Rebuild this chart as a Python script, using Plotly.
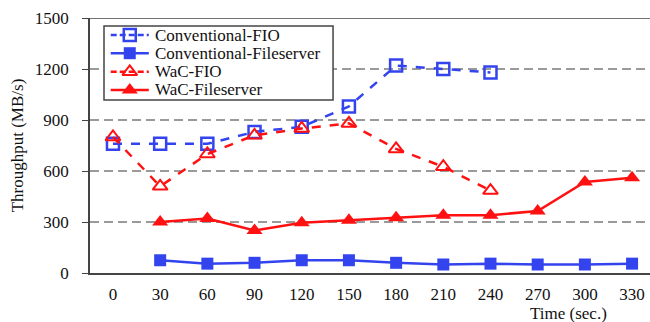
import plotly.graph_objects as go

time_labels = ["0", "30", "60", "90", "120", "150", "180", "210", "240", "270", "300", "330"]
series_names = ["Conventional-FIO", "Conventional-Fileserver", "WaC-FIO", "WaC-Fileserver"]
conv_fio_t = [0, 30, 60, 90, 120, 150, 180, 210, 240]
conv_fio = [760, 760, 760, 830, 860, 980, 1220, 1200, 1180]
conv_fs_t = [30, 60, 90, 120, 150, 180, 210, 240, 270, 300, 330]
conv_fs = [75, 55, 60, 75, 75, 60, 50, 55, 50, 50, 55]
wac_fio_t = [0, 30, 60, 90, 120, 150, 180, 210, 240]
wac_fio = [800, 510, 700, 810, 850, 880, 730, 625, 485]
wac_fs_t = [30, 60, 90, 120, 150, 180, 210, 240, 270, 300, 330]
wac_fs = [300, 320, 250, 295, 310, 325, 340, 340, 365, 535, 560]
y_ticks = [0, 300, 600, 900, 1200, 1500]

BLUE = "#3344ee"
RED = "#ff1111"
FONT = "Liberation Serif"
FS = 17

styles = [
    dict(line=dict(color=BLUE, width=2.5, dash="dash"),
         marker=dict(symbol="square-open", size=12, color=BLUE, line=dict(width=2.5, color=BLUE))),
    dict(line=dict(color=BLUE, width=2.5),
         marker=dict(symbol="square", size=12, color=BLUE)),
    dict(line=dict(color=RED, width=2.5, dash="dash"),
         marker=dict(symbol="triangle-up-open", size=13, color=RED, line=dict(width=2, color=RED))),
    dict(line=dict(color=RED, width=2.5),
         marker=dict(symbol="triangle-up", size=14, color=RED)),
]
data = [(conv_fio_t, conv_fio), (conv_fs_t, conv_fs), (wac_fio_t, wac_fio), (wac_fs_t, wac_fs)]

fig = go.Figure()

# dashed gridlines drawn as shapes so the legend box can cover them
for v in y_ticks[1:-1]:
    fig.add_shape(type="line", xref="paper", yref="y", x0=0, x1=1, y0=v, y1=v,
                  line=dict(color="#7a7a7a", width=1.5, dash="9px,5px"), layer="below")
# legend box (drawn after gridlines, below traces)
fig.add_shape(type="rect", xref="paper", yref="paper", x0=0.025, x1=0.434, y0=0.678, y1=0.969,
              line=dict(color="#444444", width=1.5), fillcolor="white", layer="below")

for name, (xs, ys), st in zip(series_names, data, styles):
    fig.add_trace(go.Scatter(x=xs, y=ys, name=name, mode="lines+markers", showlegend=False, **st))

# custom compact legend drawn on an overlay axis (0..1 in both directions)
leg_rows = [0.933, 0.862, 0.789, 0.718]
for name, st, yy in zip(series_names, styles, leg_rows):
    lst = dict(st["line"])
    if "dash" in lst:
        lst["dash"] = "6px,3px"
    fig.add_trace(go.Scatter(x=[0.037, 0.105], y=[yy, yy], mode="lines", line=lst,
                             xaxis="x2", yaxis="y2", showlegend=False, hoverinfo="skip"))
    fig.add_trace(go.Scatter(x=[0.071], y=[yy], mode="markers", marker=st["marker"],
                             xaxis="x2", yaxis="y2", showlegend=False, hoverinfo="skip"))
    fig.add_annotation(text=name, x=0.112, y=yy, xref="x2", yref="y2", xanchor="left",
                       yanchor="middle", showarrow=False, font=dict(family=FONT, size=FS, color="#111111"))

fig.update_layout(
    width=650, height=322,
    margin=dict(l=90, r=0, t=18, b=49),
    plot_bgcolor="white", paper_bgcolor="white",
    font=dict(family=FONT, size=FS, color="#111111"),
    showlegend=False,
    xaxis=dict(range=[-14.6, 341.4], tickmode="array",
               tickvals=[int(t) for t in time_labels], ticktext=time_labels,
               showgrid=False, showline=True, linecolor="#444444", linewidth=1.5,
               ticks="", zeroline=False, automargin=False, ticklabelstandoff=5,
               tickfont=dict(family=FONT, size=FS)),
    yaxis=dict(range=[0, 1500], tickmode="array", tickvals=y_ticks,
               ticktext=[str(v) for v in y_ticks],
               showgrid=False,
               showline=True, linecolor="#444444", linewidth=1.5,
               zeroline=False, ticks="outside", ticklen=6, tickcolor="#444444", tickwidth=1.2,
               ticklabelstandoff=10, automargin=False,
               tickfont=dict(family=FONT, size=FS),
               title=dict(text="Throughput (MB/s)", font=dict(family=FONT, size=FS), standoff=7)),
    xaxis2=dict(overlaying="x", range=[0, 1], visible=False, fixedrange=True),
    yaxis2=dict(overlaying="y", range=[0, 1], visible=False, fixedrange=True),
)
# top border line
fig.add_shape(type="line", xref="paper", yref="y", x0=0, x1=1, y0=1500, y1=1500,
              line=dict(color="#444444", width=1.5))
fig.add_annotation(text="Time (sec.)", xref="paper", yref="paper", x=0.855, y=-0.158,
                   xanchor="center", yanchor="middle", showarrow=False,
                   font=dict(family=FONT, size=FS, color="#111111"))

fig.write_html("out.html", config={"displayModeBar": False},
               post_script="document.body.style.margin='0';document.body.style.padding='0';")
